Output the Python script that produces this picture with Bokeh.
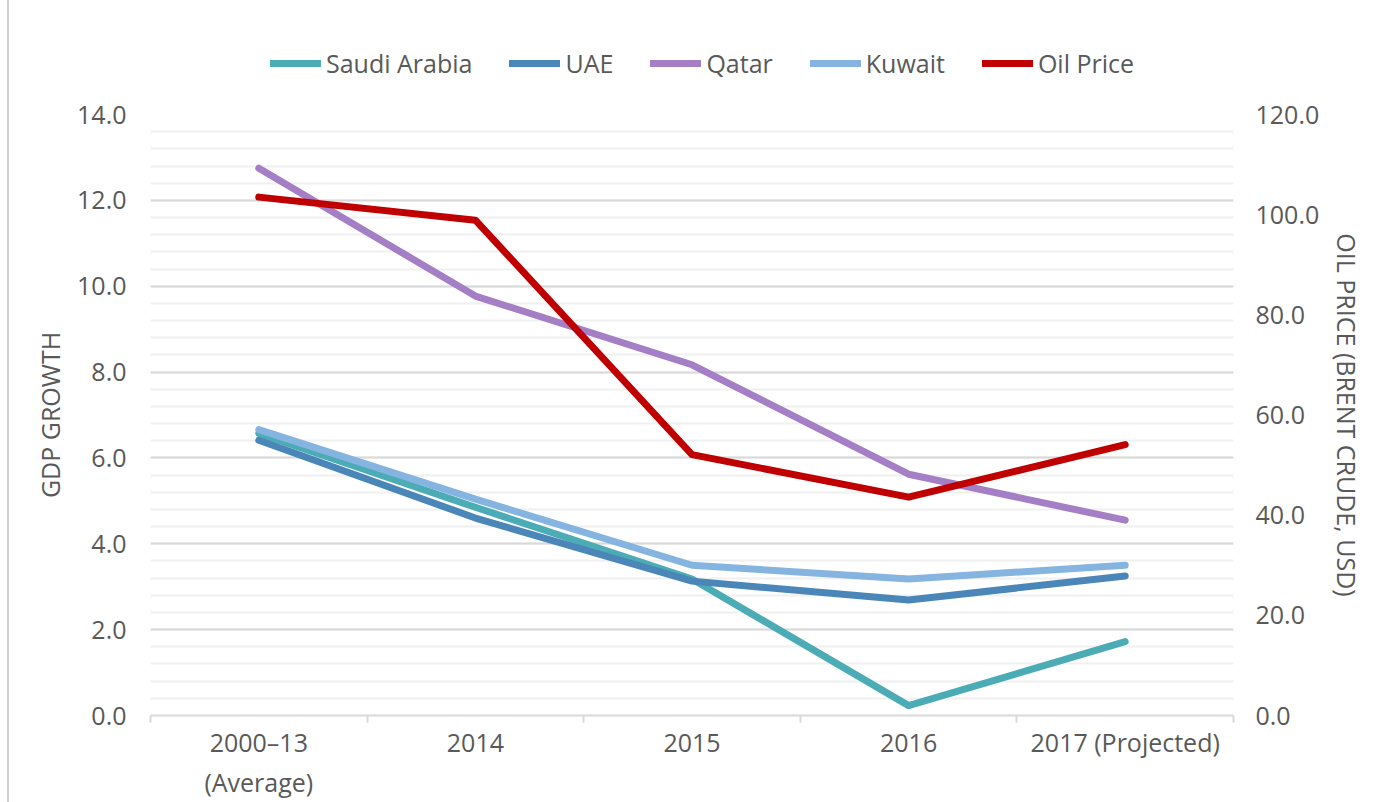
from bokeh.plotting import figure
from bokeh.layouts import column
from bokeh.models import (Range1d, LinearAxis, SingleIntervalTicker, FixedTicker,
                          Legend, LegendItem, PrintfTickFormatter)
from bokeh.embed import file_html
from bokeh.resources import INLINE

categories = ["2000–13\n(Average)", "2014", "2015", "2016", "2017 (Projected)"]
saudi = [6.57, 4.85, 3.18, 0.23, 1.72]
uae = [6.41, 4.60, 3.13, 2.69, 3.25]
qatar = [12.75, 9.77, 8.17, 5.62, 4.55]
kuwait = [6.66, 5.04, 3.50, 3.18, 3.50]
oil = [103.5, 98.9, 52.1, 43.6, 54.1]

FONT = "Open Sans"
FS = "25px"
TXT = "#595959"
W = 1373

xs = [i + 0.5 for i in range(len(categories))]

p = figure(width=W, height=712, output_backend="svg", toolbar_location=None,
           x_range=Range1d(0, len(categories)), y_range=Range1d(0, 14),
           min_border_left=141, min_border_right=149, min_border_top=24,
           min_border_bottom=83)
p.outline_line_color = None
p.extra_y_ranges = {"oil": Range1d(0, 120)}

# x axis
xa = p.xaxis[0]
xa.ticker = FixedTicker(ticks=xs, minor_ticks=list(range(len(categories) + 1)))
xa.major_label_overrides = {x: c for x, c in zip(xs, categories)}
xa.major_tick_line_color = None
xa.minor_tick_line_color = "#d9d9d9"
xa.minor_tick_line_width = 2
xa.minor_tick_out = 7
xa.minor_tick_in = 0
xa.axis_line_color = "#d9d9d9"
xa.axis_line_width = 2
xa.major_label_text_font = FONT
xa.major_label_text_font_size = FS
xa.major_label_text_color = TXT
xa.major_label_standoff = 2
p.xgrid.grid_line_color = None

# left y axis
ya = p.yaxis[0]
ya.ticker = SingleIntervalTicker(interval=2, num_minor_ticks=5)
ya.formatter = PrintfTickFormatter(format="%.1f")
ya.axis_line_color = None
ya.major_tick_line_color = None
ya.minor_tick_line_color = None
ya.major_label_text_font = FONT
ya.major_label_text_font_size = FS
ya.major_label_text_color = TXT
ya.major_label_standoff = 18
ya.axis_label = "GDP GROWTH"
ya.axis_label_text_font = FONT
ya.axis_label_text_font_size = FS
ya.axis_label_text_font_style = "normal"
ya.axis_label_text_color = TXT
ya.axis_label_standoff = 7
p.ygrid.grid_line_color = "#d9d9d9"
p.ygrid.grid_line_width = 2
p.ygrid.minor_grid_line_color = "#f0f0f0"
p.ygrid.minor_grid_line_width = 2

# right y axis
ra = LinearAxis(y_range_name="oil")
ra.ticker = SingleIntervalTicker(interval=20, num_minor_ticks=5)
ra.formatter = PrintfTickFormatter(format="%.1f")
ra.axis_line_color = None
ra.major_tick_line_color = None
ra.minor_tick_line_color = None
ra.major_label_text_font = FONT
ra.major_label_text_font_size = FS
ra.major_label_text_color = TXT
ra.major_label_standoff = 16
ra.axis_label = "OIL PRICE (BRENT CRUDE, USD)"
ra.axis_label_text_font = FONT
ra.axis_label_text_font_size = FS
ra.axis_label_text_font_style = "normal"
ra.axis_label_text_color = TXT
ra.axis_label_standoff = 8
p.add_layout(ra, "right")

series = [
    ("Saudi Arabia", saudi, "#4BACB6", "default"),
    ("UAE", uae, "#4A86B8", "default"),
    ("Qatar", qatar, "#A57FC6", "default"),
    ("Kuwait", kuwait, "#86B4E0", "default"),
    ("Oil Price", oil, "#C00000", "oil"),
]

# legend strip above the chart (its ranges keep the copies of the lines out of view)
lf = figure(width=W, height=90, output_backend="svg", toolbar_location=None,
            x_range=Range1d(-20, -10), y_range=Range1d(-20, -10),
            x_axis_location=None, y_axis_location=None,
            min_border_left=0, min_border_right=0, min_border_top=0,
            min_border_bottom=0)
lf.outline_line_color = None
lf.grid.visible = False

items = []
for name, vals, col, rng in series:
    p.line(xs, vals, line_color=col, line_width=7, line_cap="round",
           line_join="round", y_range_name=rng)
    lr = lf.line(xs, vals, line_color=col, line_width=7, line_cap="round")
    items.append(LegendItem(label=name, renderers=[lr]))

legend = Legend(items=items, orientation="horizontal", location=(120, 10),
                label_text_font=FONT, label_text_font_size=FS,
                label_text_color=TXT, glyph_width=51, glyph_height=24,
                label_standoff=5, spacing=37, padding=0, margin=0,
                background_fill_alpha=0, border_line_alpha=0)
lf.add_layout(legend, "center")

layout = column(lf, p, spacing=0)
layout.styles = {"margin-left": "7px", "border-left": "2px solid #d0d0d0"}

open("out.html", "w").write(file_html(layout, INLINE))
